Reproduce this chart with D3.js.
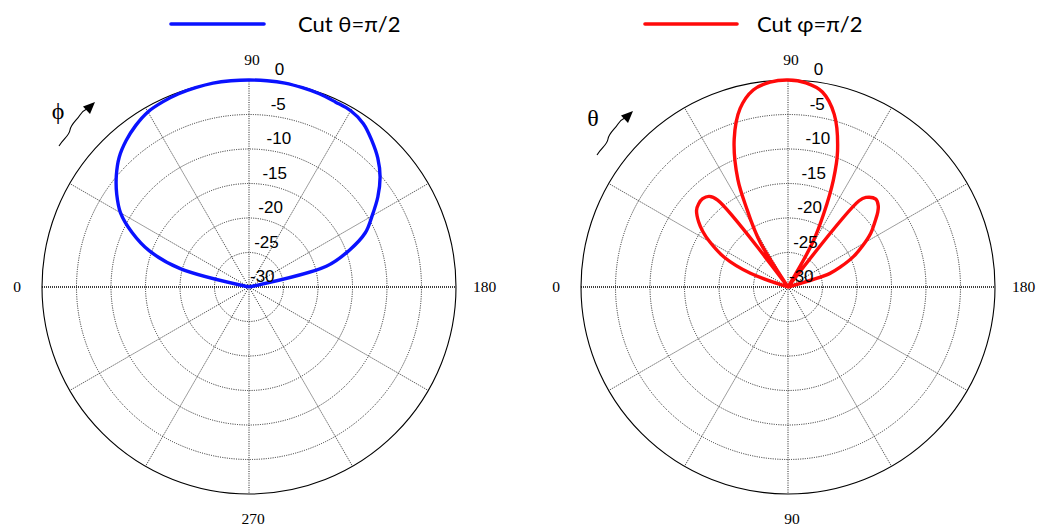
<!DOCTYPE html>
<html>
<head>
<meta charset="utf-8">
<script src="https://cdn.jsdelivr.net/npm/d3@7"></script>
<style>
  html, body { margin: 0; padding: 0; background: #fff; }
  svg { display: block; }
</style>
</head>
<body>
<svg id="chart" width="1042" height="527"></svg>
<script>
// Radial ticks (dB) and angular tick labels
const dbTicks = [0, -5, -10, -15, -20, -25, -30];
const spokeAngles = [0, 30, 60, 90, 120, 150, 180, 210, 240, 270, 300, 330];
const leftAngleLabels = ["0", "90", "180", "270"];
const rightAngleLabels = ["0", "90", "180", "90"];

// Cut θ=π/2 : angle φ (deg) and normalised gain (dB); -30 is the plot floor
const cutThetaAngles = [0, 5, 10, 15, 20, 25, 30, 35, 40, 45, 50, 55, 60, 65, 70, 75, 80, 85, 90,
  95, 100, 105, 110, 115, 120, 125, 130, 135, 140, 145, 150, 155, 160, 165, 170, 175, 180];
const cutThetaDb = [-30, -30, -30, -19.6, -14.6, -11.3, -8.5, -6.6, -4.9, -3.4, -2.3, -1.4, -0.7, -0.4, -0.2, -0.1, 0, 0, 0,
  0, 0, -0.1, -0.2, -0.4, -0.5, -1.1, -2.3, -3.6, -5.2, -7.2, -9.4, -11.4, -14.6, -18.4, -30, -30, -30];

// Cut φ=π/2 : angle θ (deg) and normalised gain (dB)
const cutPhiAngles = [0, 19, 20, 25, 30, 33, 36, 40, 43, 46, 49, 51, 52, 57, 58, 60, 62, 65, 70, 75, 80, 85, 90,
  95, 100, 105, 110, 113, 116, 119, 120, 128, 129.5, 131, 135, 138, 140, 143, 147, 151, 155, 159, 162, 163, 180];
const cutPhiDb = [-30, -30, -24.2, -19.8, -16.9, -15.3, -14.0, -12.7, -12.3, -12.2, -12.6, -13.8, -30, -30, -22.5, -20.0, -17.5, -12.8, -7.2, -3.2, -1.0, -0.2, 0,
  -0.3, -1.3, -4.1, -9.0, -13.2, -18.2, -22.6, -30, -30, -13.8, -12.8, -12.0, -12.4, -13.0, -14.2, -15.7, -17.6, -19.5, -21.8, -23.6, -30, -30];

const svg = d3.select("#chart");
const R = 207;

// gain (dB) -> radius; anything at or below -30 dB sits at the centre
const rScale = d3.scaleLinear().domain([-30, 0]).range([0, R]).clamp(true);
// angle (deg, 0 at the left, increasing clockwise through the top) -> lineRadial angle
const aScale = d3.scaleLinear().domain([0, 360]).range([-Math.PI / 2, 1.5 * Math.PI]);

function polarXY(deg, r) {
  const a = aScale(deg);
  return [r * Math.sin(a), -r * Math.cos(a)];
}

const gridDash = "1 1.3";

function drawPolar(cx, cy, angles, dbs, color, angleLabels, symbol) {
  const g = svg.append("g").attr("transform", `translate(${cx},${cy})`);

  // dotted rings
  g.selectAll("circle.ring")
    .data(dbTicks.filter(d => d > -30 && d < 0))
    .join("circle")
    .attr("class", "ring")
    .attr("r", d => rScale(d))
    .attr("fill", "none")
    .attr("stroke", "#222")
    .attr("stroke-width", 1)
    .attr("stroke-dasharray", gridDash);

  // dotted spokes
  g.selectAll("line.spoke")
    .data(spokeAngles.filter(a => a % 180 !== 0))
    .join("line")
    .attr("class", "spoke")
    .attr("x1", 0).attr("y1", 0)
    .attr("x2", d => polarXY(d, R)[0])
    .attr("y2", d => polarXY(d, R)[1])
    .attr("stroke", "#222")
    .attr("stroke-width", 1)
    .attr("stroke-dasharray", gridDash);

  // horizontal 0–180 axis, drawn heavier
  g.append("line")
    .attr("x1", -R).attr("y1", 0).attr("x2", R).attr("y2", 0)
    .attr("stroke", "#000")
    .attr("stroke-width", 1.6)
    .attr("stroke-dasharray", "1 1");

  // outer circle
  g.append("circle")
    .attr("r", rScale(0))
    .attr("fill", "none")
    .attr("stroke", "#000")
    .attr("stroke-width", 1.1);

  // pattern
  const pts = angles.map((a, i) => [a, dbs[i]]);
  const line = d3.lineRadial()
    .angle(d => aScale(d[0]))
    .radius(d => rScale(d[1]))
    .curve(d3.curveCatmullRomClosed.alpha(0.5));
  g.append("path")
    .attr("d", line(pts))
    .attr("fill", "none")
    .attr("stroke", color)
    .attr("stroke-width", 3.4)
    .attr("stroke-linejoin", "round");

  // radial tick labels, stepping slightly right as the ring grows
  g.selectAll("text.db")
    .data(dbTicks)
    .join("text")
    .attr("class", "db")
    .attr("x", d => 1 + 0.12 * rScale(d))
    .attr("y", d => -rScale(d) - 11)
    .attr("dy", "0.36em")
    .attr("font-family", "'Liberation Sans', Arial, sans-serif")
    .attr("font-size", 17)
    .attr("fill", "#000")
    .text(d => d);

  // angular labels: left, top, right, bottom
  const lab = [
    { t: angleLabels[0], x: -R - 21, y: 0, anchor: "end" },
    { t: angleLabels[1], x: 3, y: -R - 20, anchor: "middle" },
    { t: angleLabels[2], x: R + 17, y: 0, anchor: "start" },
    { t: angleLabels[3], x: 4, y: R + 25, anchor: "middle" }
  ];
  g.selectAll("text.ang")
    .data(lab)
    .join("text")
    .attr("class", "ang")
    .attr("x", d => d.x)
    .attr("y", d => d.y)
    .attr("dy", "0.35em")
    .attr("text-anchor", d => d.anchor)
    .attr("font-family", "'Liberation Serif', 'Times New Roman', serif")
    .attr("font-size", 15.5)
    .text(d => d.t);

  // rotation-sense symbol with a wavy arrow
  g.append("text")
    .attr("x", symbol.x)
    .attr("y", symbol.y)
    .attr("font-family", "'Liberation Serif', 'Times New Roman', serif")
    .attr("font-size", 24)
    .attr("text-anchor", "middle")
    .text(symbol.t);

  const ax = symbol.ax, ay = symbol.ay;
  g.append("path")
    .attr("d", `M${ax},${ay} C${ax + 5},${ay - 8} ${ax + 10},${ay - 10} ${ax + 11},${ay - 16}` +
      ` S${ax + 18},${ay - 26} ${ax + 21},${ay - 31} S${ax + 26},${ay - 36} ${ax + 28},${ay - 37}`)
    .attr("fill", "none")
    .attr("stroke", "#000")
    .attr("stroke-width", 1.1);
  g.append("path")
    .attr("d", `M${ax + 36},${ay - 44} L${ax + 24},${ay - 39.5} L${ax + 31},${ay - 32} Z`)
    .attr("fill", "#000");
}

drawPolar(249, 287, cutThetaAngles, cutThetaDb, "#0a12ff", leftAngleLabels,
  { t: "ϕ", x: -191, y: -168, ax: -190, ay: -141 });
drawPolar(788, 287, cutPhiAngles, cutPhiDb, "#ff0a0a", rightAngleLabels,
  { t: "θ", x: -195, y: -161, ax: -191, ay: -132 });

// legend
const legend = [
  { label: "Cut θ=π/2", color: "#0a12ff", x1: 171, x2: 264, tx: 298 },
  { label: "Cut φ=π/2", color: "#ff0a0a", x1: 645, x2: 737, tx: 757 }
];
const lg = svg.selectAll("g.legend").data(legend).join("g").attr("class", "legend");
lg.append("line")
  .attr("x1", d => d.x1).attr("x2", d => d.x2)
  .attr("y1", 24).attr("y2", 24)
  .attr("stroke", d => d.color)
  .attr("stroke-width", 3.6)
  .attr("stroke-linecap", "round");
lg.append("text")
  .attr("x", d => d.tx)
  .attr("y", 24)
  .attr("dy", "0.35em")
  .attr("font-family", "Lato, 'Open Sans', sans-serif")
  .attr("font-size", 22)
  .attr("fill", "#000")
  .text(d => d.label);
</script>
</body>
</html>
